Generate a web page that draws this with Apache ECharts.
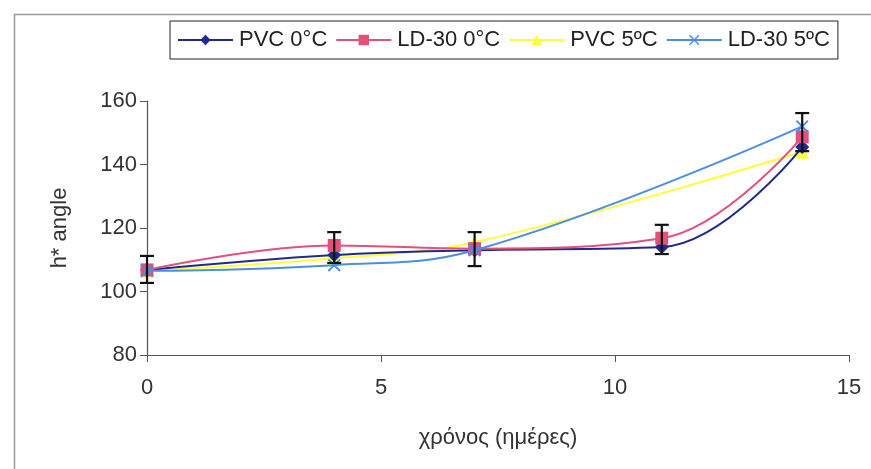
<!DOCTYPE html>
<html>
<head>
<meta charset="utf-8">
<script src="https://cdn.jsdelivr.net/npm/echarts@6/dist/echarts.min.js"></script>
<style>html,body{margin:0;padding:0;background:#fff}#c{width:871px;height:469px}</style>
</head>
<body>
<div id="c"></div>
<script>
// Data
var days = [0, 4, 7, 11, 14];
var days5 = [0, 4, 7, 14];
var pvc0 = [106.8, 111.5, 113.0, 114.0, 145.5];
var ld0 = [106.8, 114.5, 113.5, 116.8, 148.7];
var pvc5 = [106.5, 110.5, 115.5, 144.0];
var ld5 = [106.5, 108.3, 113.0, 152.0];
var errLow = [102.7, 109.0, 108.0, 111.8, 144.2];
var errHigh = [111.2, 118.7, 118.7, 121.0, 156.2];
var seriesNames = ['PVC 0°C', 'LD-30 0°C', 'PVC 5ºC', 'LD-30 5ºC'];

function pairs(xs, ys) { return xs.map(function (x, i) { return [x, ys[i]]; }); }
var errData = days.map(function (x, i) { return [x, errLow[i], errHigh[i]]; });

var FONT = 'Liberation Sans, Arial, sans-serif';
var crossPath = 'path://M0,1L1,0L5,4L9,0L10,1L6,5L10,9L9,10L5,6L1,10L0,9L4,5Z';

var chart = echarts.init(document.getElementById('c'));
chart.setOption({
  animation: false,
  backgroundColor: '#fff',
  graphic: [{
    type: 'rect', left: 12, top: 12, shape: { width: 900, height: 500 },
    style: { fill: 'none', stroke: '#999', lineWidth: 1.5 }, silent: true, z: -10
  }],
  legend: {
    left: 170, top: 21, width: 680, height: 38,
    padding: [8, 8, 8, 7],
    borderColor: '#222', borderWidth: 1,
    itemWidth: 55, itemHeight: 13, itemGap: 8,
    textStyle: { fontFamily: FONT, fontSize: 22, color: '#222', padding: [0, 0, 0, 1] },
    data: seriesNames
  },
  grid: { left: 147, top: 101, width: 702, height: 254, containLabel: false },
  xAxis: {
    type: 'value', min: 0, max: 15, interval: 5,
    name: 'χρόνος (ημέρες)', nameLocation: 'middle', nameGap: 72,
    nameTextStyle: { fontFamily: FONT, fontSize: 22, color: '#333' },
    axisLine: { lineStyle: { color: '#555', width: 1.2 } },
    axisTick: { show: true, length: 7, lineStyle: { color: '#555' } },
    axisLabel: { fontFamily: FONT, fontSize: 22, color: '#333', margin: 22 },
    splitLine: { show: false }
  },
  yAxis: {
    type: 'value', min: 80, max: 160, interval: 20,
    name: 'h* angle', nameLocation: 'middle', nameGap: 76,
    nameTextStyle: { fontFamily: FONT, fontSize: 22, color: '#333' },
    axisLine: { show: true, lineStyle: { color: '#555', width: 1.2 } },
    axisTick: { show: true, length: 7, lineStyle: { color: '#555' } },
    axisLabel: { fontFamily: FONT, fontSize: 22, color: '#333', margin: 10 },
    splitLine: { show: false }
  },
  series: [
    {
      name: seriesNames[0], type: 'line', smooth: 0.4, data: pairs(days, pvc0),
      symbol: 'diamond', symbolSize: 14,
      lineStyle: { color: '#1f2a8c', width: 2 }, itemStyle: { color: '#1f2a8c' }, z: 3
    },
    {
      name: seriesNames[1], type: 'line', smooth: 0.4, data: pairs(days, ld0),
      symbol: 'rect', symbolSize: 13,
      lineStyle: { color: '#e4507c', width: 2 }, itemStyle: { color: '#e4507c' }, z: 4
    },
    {
      name: seriesNames[2], type: 'line', smooth: 0.4, data: pairs(days5, pvc5),
      symbol: 'triangle', symbolSize: 14,
      lineStyle: { color: '#ffff3a', width: 2 }, itemStyle: { color: '#ffff3a' }, z: 2
    },
    {
      name: seriesNames[3], type: 'line', smooth: 0.4, data: pairs(days5, ld5),
      symbol: crossPath, symbolSize: 13,
      lineStyle: { color: '#4a8fe0', width: 2 }, itemStyle: { color: '#4a8fe0' }, z: 5
    },
    {
      type: 'custom', name: 'err', data: errData, z: 6,
      renderItem: function (params, api) {
        var x = api.value(0);
        var lo = api.coord([x, api.value(1)]);
        var hi = api.coord([x, api.value(2)]);
        var w = 7;
        var st = { stroke: '#111', lineWidth: 2.2, fill: null };
        return {
          type: 'group', children: [
            { type: 'line', shape: { x1: hi[0], y1: hi[1], x2: lo[0], y2: lo[1] }, style: st },
            { type: 'line', shape: { x1: hi[0] - w, y1: hi[1], x2: hi[0] + w, y2: hi[1] }, style: st },
            { type: 'line', shape: { x1: lo[0] - w, y1: lo[1], x2: lo[0] + w, y2: lo[1] }, style: st }
          ]
        };
      }
    }
  ]
});
</script>
</body>
</html>
